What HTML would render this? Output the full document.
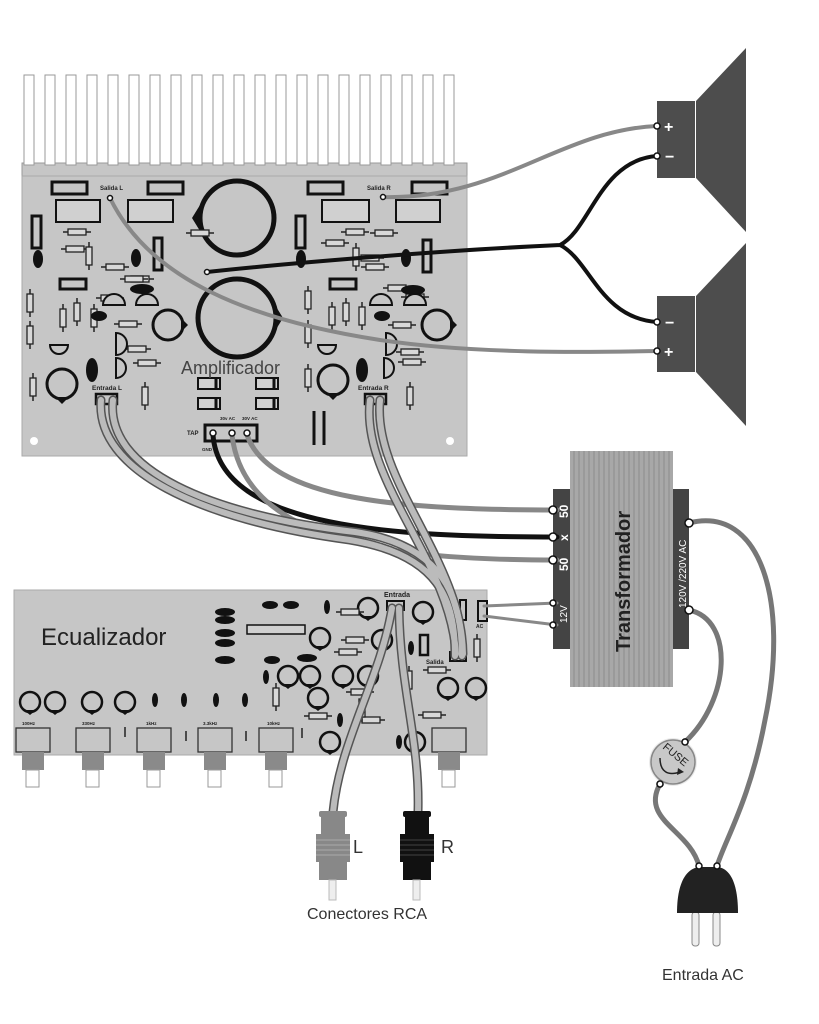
<!DOCTYPE html>
<html><head><meta charset="utf-8"><style>
html,body{margin:0;padding:0;background:#fff;}
svg{display:block;font-family:"Liberation Sans","DejaVu Sans",sans-serif;}
</style></head><body>
<svg width="819" height="1024" viewBox="0 0 819 1024" xmlns="http://www.w3.org/2000/svg">
<defs>
<g id="res"><line x1="-14" y1="0" x2="14" y2="0" stroke="#222" stroke-width="1.5"/><rect x="-9" y="-3" width="18" height="6" fill="#d8d8d8" stroke="#222" stroke-width="1.3"/></g>
<g id="vres"><line x1="0" y1="-14" x2="0" y2="14" stroke="#222" stroke-width="1.5"/><rect x="-3" y="-9" width="6" height="18" fill="#d8d8d8" stroke="#222" stroke-width="1.3"/></g>
<g id="tr"><circle r="15" fill="#c6c6c6" stroke="#111" stroke-width="3"/><path d="M-7,13 L0,20 L7,13 Z" fill="#111"/></g>
<g id="trs"><circle r="10" fill="#c6c6c6" stroke="#111" stroke-width="2.5"/><path d="M-6,8 L0,13 L6,8 Z" fill="#111"/></g>
<g id="pot"><rect x="0" y="0" width="34" height="24" fill="#c6c6c6" stroke="#333" stroke-width="1.3"/><rect x="6" y="24" width="22" height="18" fill="#8a8a8a"/><rect x="10" y="42" width="13" height="17" fill="#fff" stroke="#999"/></g>
</defs>

<!-- Heatsink -->
<rect x="22" y="163" width="445" height="14" fill="#c6c6c6" stroke="#999"/>
<g fill="#fff" stroke="#999" stroke-width="1">
<rect x="24" y="75" width="10" height="90"/><rect x="45" y="75" width="10" height="90"/><rect x="66" y="75" width="10" height="90"/><rect x="87" y="75" width="10" height="90"/><rect x="108" y="75" width="10" height="90"/><rect x="129" y="75" width="10" height="90"/><rect x="150" y="75" width="10" height="90"/><rect x="171" y="75" width="10" height="90"/><rect x="192" y="75" width="10" height="90"/><rect x="213" y="75" width="10" height="90"/><rect x="234" y="75" width="10" height="90"/><rect x="255" y="75" width="10" height="90"/><rect x="276" y="75" width="10" height="90"/><rect x="297" y="75" width="10" height="90"/><rect x="318" y="75" width="10" height="90"/><rect x="339" y="75" width="10" height="90"/><rect x="360" y="75" width="10" height="90"/><rect x="381" y="75" width="10" height="90"/><rect x="402" y="75" width="10" height="90"/><rect x="423" y="75" width="10" height="90"/><rect x="444" y="75" width="10" height="90"/>
</g>

<!-- Amp board -->
<rect x="22" y="176" width="445" height="280" fill="#c6c6c6" stroke="#aaa"/>
<g fill="none" stroke="#111" stroke-width="3">
<rect x="52" y="182" width="35" height="12"/><rect x="148" y="182" width="35" height="12"/><rect x="308" y="182" width="35" height="12"/><rect x="412" y="182" width="35" height="12"/>
<rect x="60" y="279" width="26" height="10"/><rect x="330" y="279" width="26" height="10"/>
<rect x="32" y="216" width="9" height="32"/><rect x="154" y="238" width="8" height="32"/><rect x="296" y="216" width="9" height="32"/><rect x="423" y="240" width="8" height="32"/>
</g>
<g fill="#d0d0d0" stroke="#111" stroke-width="2">
<rect x="56" y="200" width="44" height="22"/><rect x="128" y="200" width="45" height="22"/><rect x="322" y="200" width="47" height="22"/><rect x="396" y="200" width="44" height="22"/>
</g>
<circle cx="237" cy="218" r="37" fill="#c6c6c6" stroke="#111" stroke-width="5"/><path d="M200,205 L192,218 L200,231 Z" fill="#111"/>
<circle cx="237" cy="318" r="39" fill="#c6c6c6" stroke="#111" stroke-width="5"/><path d="M275,305 L283,318 L275,331 Z" fill="#111"/>
<g>
<use href="#res" x="77" y="232"/><use href="#res" x="75" y="249"/><use href="#res" x="115" y="267"/><use href="#res" x="140" y="279"/><use href="#res" x="200" y="233"/><use href="#res" x="128" y="324"/><use href="#res" x="137" y="349"/><use href="#res" x="147" y="363"/><use href="#res" x="110" y="298"/><use href="#res" x="134" y="279"/>
<use href="#vres" x="30" y="303"/><use href="#vres" x="30" y="335"/><use href="#vres" x="33" y="387"/><use href="#vres" x="63" y="318"/><use href="#vres" x="77" y="312"/><use href="#vres" x="94" y="318"/><use href="#vres" x="89" y="256"/><use href="#vres" x="145" y="396"/>
<use href="#res" x="355" y="232"/><use href="#res" x="335" y="243"/><use href="#res" x="375" y="267"/><use href="#res" x="397" y="288"/><use href="#res" x="415" y="297"/><use href="#res" x="402" y="325"/><use href="#res" x="410" y="352"/><use href="#res" x="412" y="362"/><use href="#res" x="384" y="233"/><use href="#res" x="370" y="258"/>
<use href="#vres" x="308" y="300"/><use href="#vres" x="308" y="334"/><use href="#vres" x="308" y="378"/><use href="#vres" x="332" y="316"/><use href="#vres" x="346" y="312"/><use href="#vres" x="362" y="316"/><use href="#vres" x="356" y="257"/><use href="#vres" x="410" y="396"/>
</g>
<g fill="#111">
<ellipse cx="38" cy="259" rx="5" ry="9"/><ellipse cx="136" cy="258" rx="5" ry="9"/><ellipse cx="92" cy="370" rx="6" ry="12"/><ellipse cx="99" cy="316" rx="8" ry="5"/><ellipse cx="142" cy="289" rx="12" ry="5"/>
<ellipse cx="301" cy="259" rx="5" ry="9"/><ellipse cx="406" cy="258" rx="5" ry="9"/><ellipse cx="362" cy="370" rx="6" ry="12"/><ellipse cx="382" cy="316" rx="8" ry="5"/><ellipse cx="413" cy="290" rx="12" ry="5"/>
</g>
<g fill="#c6c6c6" stroke="#111" stroke-width="2">
<path d="M103,305 a11,11 0 0 1 22,0 Z"/><path d="M136,305 a11,11 0 0 1 22,0 Z"/><path d="M50,345 a9,9 0 0 0 18,0 Z"/><path d="M116,333 v22 a11,11 0 0 0 0,-22 Z"/><path d="M116,358 v20 a10,10 0 0 0 0,-20 Z"/>
<path d="M370,305 a11,11 0 0 1 22,0 Z"/><path d="M404,305 a11,11 0 0 1 22,0 Z"/><path d="M318,345 a9,9 0 0 0 18,0 Z"/><path d="M386,333 v22 a11,11 0 0 0 0,-22 Z"/><path d="M384,358 v20 a10,10 0 0 0 0,-20 Z"/>
</g>
<g transform="rotate(-90 168 325)"><use href="#tr" x="168" y="325"/></g>
<g transform="rotate(-90 437 325)"><use href="#tr" x="437" y="325"/></g>
<use href="#tr" x="62" y="384"/><use href="#tr" x="333" y="380"/>
<g fill="#d0d0d0" stroke="#111" stroke-width="2">
<rect x="198" y="378" width="22" height="11"/><rect x="198" y="398" width="22" height="11"/><rect x="256" y="378" width="22" height="11"/><rect x="256" y="398" width="22" height="11"/>
</g>
<g stroke="#111" stroke-width="3"><line x1="216" y1="378" x2="216" y2="389"/><line x1="216" y1="398" x2="216" y2="409"/><line x1="274" y1="378" x2="274" y2="389"/><line x1="274" y1="398" x2="274" y2="409"/>
<line x1="314" y1="411" x2="314" y2="445"/><line x1="324" y1="411" x2="324" y2="445"/></g>
<text x="181" y="374" font-size="18" fill="#444">Amplificador</text>
<text x="100" y="190" font-size="6" font-weight="bold" fill="#222">Salida L</text>
<text x="367" y="190" font-size="6" font-weight="bold" fill="#222">Salida R</text>
<text x="92" y="390" font-size="6.5" font-weight="bold" fill="#222">Entrada L</text>
<text x="358" y="390" font-size="6.5" font-weight="bold" fill="#222">Entrada R</text>
<text x="220" y="420" font-size="4.5" font-weight="bold" fill="#222">30v AC</text>
<text x="242" y="420" font-size="4.5" font-weight="bold" fill="#222">30V AC</text>
<text x="187" y="435" font-size="6" font-weight="bold" fill="#222">TAP</text>
<text x="202" y="451" font-size="4.5" font-weight="bold" fill="#222">GND</text>
<rect x="205" y="425" width="52" height="16" fill="#c6c6c6" stroke="#111" stroke-width="3"/>
<rect x="96" y="394" width="21" height="10" fill="#c6c6c6" stroke="#111" stroke-width="2.5"/>
<rect x="365" y="394" width="21" height="10" fill="#c6c6c6" stroke="#111" stroke-width="2.5"/>
<circle cx="34" cy="441" r="4" fill="#fff"/><circle cx="450" cy="441" r="4" fill="#fff"/>

<!-- Equalizer board -->
<rect x="14" y="590" width="473" height="165" fill="#c6c6c6" stroke="#aaa"/>
<text x="41" y="645" font-size="24" fill="#222">Ecualizador</text>
<g fill="#111">
<ellipse cx="225" cy="612" rx="10" ry="4"/><ellipse cx="225" cy="620" rx="10" ry="4"/><ellipse cx="225" cy="633" rx="10" ry="4"/><ellipse cx="225" cy="643" rx="10" ry="4"/><ellipse cx="225" cy="660" rx="10" ry="4"/>
<ellipse cx="270" cy="605" rx="8" ry="4"/><ellipse cx="291" cy="605" rx="8" ry="4"/><ellipse cx="272" cy="660" rx="8" ry="4"/><ellipse cx="307" cy="658" rx="10" ry="4"/>
<ellipse cx="327" cy="607" rx="3" ry="7"/><ellipse cx="266" cy="677" rx="3" ry="7"/><ellipse cx="155" cy="700" rx="3" ry="7"/><ellipse cx="184" cy="700" rx="3" ry="7"/><ellipse cx="216" cy="700" rx="3" ry="7"/><ellipse cx="245" cy="700" rx="3" ry="7"/>
<ellipse cx="411" cy="648" rx="3" ry="7"/><ellipse cx="340" cy="720" rx="3" ry="7"/><ellipse cx="399" cy="742" rx="3" ry="7"/>
</g>
<rect x="247" y="625" width="58" height="9" fill="#d0d0d0" stroke="#111" stroke-width="1.5"/>
<rect x="420" y="635" width="8" height="20" fill="#c6c6c6" stroke="#111" stroke-width="2.5"/>
<rect x="460" y="600" width="6" height="20" fill="#c6c6c6" stroke="#111" stroke-width="2"/>
<g>
<use href="#trs" x="30" y="702"/><use href="#trs" x="55" y="702"/><use href="#trs" x="92" y="702"/><use href="#trs" x="125" y="702"/>
<use href="#trs" x="320" y="638"/><use href="#trs" x="288" y="676"/><use href="#trs" x="310" y="676"/><use href="#trs" x="318" y="698"/><use href="#trs" x="343" y="676"/><use href="#trs" x="368" y="676"/><use href="#trs" x="330" y="742"/><use href="#trs" x="415" y="742"/><use href="#trs" x="448" y="688"/><use href="#trs" x="476" y="688"/><use href="#trs" x="423" y="612"/><use href="#trs" x="382" y="640"/><use href="#trs" x="368" y="608"/>
<use href="#res" x="350" y="612"/><use href="#res" x="355" y="640"/><use href="#res" x="348" y="652"/><use href="#res" x="360" y="692"/><use href="#res" x="318" y="716"/><use href="#res" x="371" y="720"/><use href="#res" x="432" y="715"/><use href="#res" x="437" y="670"/>
<use href="#vres" x="276" y="697"/><use href="#vres" x="362" y="708"/><use href="#vres" x="409" y="680"/><use href="#vres" x="477" y="648"/>
</g>
<rect x="478" y="601" width="9" height="20" fill="#c6c6c6" stroke="#111" stroke-width="2"/>
<text x="476" y="628" font-size="5" font-weight="bold" fill="#222">AC</text>
<text x="384" y="597" font-size="7" font-weight="bold" fill="#222">Entrada</text>
<rect x="387" y="601" width="17" height="9" fill="#c6c6c6" stroke="#111" stroke-width="2"/>
<text x="426" y="664" font-size="6" font-weight="bold" fill="#222">Salida</text>
<rect x="450" y="652" width="16" height="9" fill="#c6c6c6" stroke="#111" stroke-width="2"/>
<g font-size="4.5" font-weight="bold" fill="#222">
<text x="22" y="725">100Hz</text><text x="82" y="725">330Hz</text><text x="146" y="725">1kHz</text><text x="203" y="725">3.3kHz</text><text x="267" y="725">10kHz</text>
</g>
<g stroke="#222" stroke-width="1.5"><line x1="125" y1="727" x2="125" y2="737"/><line x1="186" y1="731" x2="186" y2="741"/><line x1="246" y1="731" x2="246" y2="741"/><line x1="302" y1="728" x2="302" y2="738"/></g>
<use href="#pot" x="16" y="728"/><use href="#pot" x="76" y="728"/><use href="#pot" x="137" y="728"/><use href="#pot" x="198" y="728"/><use href="#pot" x="259" y="728"/><use href="#pot" x="432" y="728"/>

<!-- Transformer -->
<rect x="570" y="451" width="103" height="236" fill="#a8a8a8"/>
<g stroke="#8c8c8c" stroke-width="1">
<line x1="574" y1="451" x2="574" y2="687"/><line x1="579" y1="451" x2="579" y2="687"/><line x1="584" y1="451" x2="584" y2="687"/><line x1="589" y1="451" x2="589" y2="687"/><line x1="594" y1="451" x2="594" y2="687"/><line x1="599" y1="451" x2="599" y2="687"/><line x1="604" y1="451" x2="604" y2="687"/><line x1="609" y1="451" x2="609" y2="687"/><line x1="614" y1="451" x2="614" y2="687"/><line x1="619" y1="451" x2="619" y2="687"/><line x1="624" y1="451" x2="624" y2="687"/><line x1="629" y1="451" x2="629" y2="687"/><line x1="634" y1="451" x2="634" y2="687"/><line x1="639" y1="451" x2="639" y2="687"/><line x1="644" y1="451" x2="644" y2="687"/><line x1="649" y1="451" x2="649" y2="687"/><line x1="654" y1="451" x2="654" y2="687"/><line x1="659" y1="451" x2="659" y2="687"/><line x1="664" y1="451" x2="664" y2="687"/><line x1="669" y1="451" x2="669" y2="687"/>
</g>
<rect x="553" y="489" width="17" height="160" fill="#444"/>
<rect x="673" y="489" width="16" height="160" fill="#444"/>
<text transform="translate(630,652) rotate(-90)" font-size="20" font-weight="bold" fill="#222">Transformador</text>
<g fill="#fff" font-weight="bold" font-size="12">
<text transform="translate(568,518) rotate(-90)">50</text>
<text transform="translate(568,541) rotate(-90)">x</text>
<text transform="translate(568,571) rotate(-90)">50</text>
</g>
<text transform="translate(567,623) rotate(-90)" font-size="10" fill="#fff">12V</text>
<text transform="translate(686,608) rotate(-90)" font-size="10" fill="#fff">120V /220V AC</text>

<!-- Speakers -->
<rect x="657" y="101" width="38" height="77" fill="#4d4d4d"/>
<path d="M696,101 L746,48 L746,232 L696,178 Z" fill="#4d4d4d"/>
<rect x="657" y="296" width="38" height="76" fill="#4d4d4d"/>
<path d="M696,296 L746,243 L746,426 L696,372 Z" fill="#4d4d4d"/>
<g fill="#fff" font-size="16" font-weight="bold"><text x="664" y="132">+</text><text x="665" y="162">−</text><text x="665" y="328">−</text><text x="664" y="357">+</text></g>

<!-- Wires -->
<g fill="none" stroke-linecap="round">
<path d="M383,197 C500,200 560,130 657,126" stroke="#888" stroke-width="4"/>
<path d="M110,198 C150,280 250,320 380,340 C480,355 600,352 657,351" stroke="#888" stroke-width="4"/>
<path d="M657,156 C600,160 590,230 560,245 M657,322 C600,318 590,260 560,245 M560,245 C450,250 300,262 207,272" stroke="#111" stroke-width="4"/>
<path d="M213,435 C220,530 400,537 557,537" stroke="#111" stroke-width="5"/>
<path d="M232,435 C245,545 400,560 557,560" stroke="#888" stroke-width="5"/>
<path d="M247,435 C270,500 400,510 557,510" stroke="#888" stroke-width="5"/>
<path d="M484,606 L557,603 M484,616 L557,625" stroke="#888" stroke-width="3"/>
<path d="M689,523 C760,505 790,600 765,720 C750,800 725,840 717,866" stroke="#777" stroke-width="5"/>
<path d="M689,610 C735,620 730,700 685,742" stroke="#777" stroke-width="5"/>
<path d="M660,784 C640,820 690,830 699,866" stroke="#777" stroke-width="5"/>
<!-- cables -->
<g stroke="#555" stroke-width="9">
<path d="M101,400 C95,470 200,520 350,540 C440,555 455,600 455,656"/>
<path d="M113,400 C105,470 210,515 355,532 C445,545 462,600 462,656"/>
<path d="M370,400 C360,480 450,560 456,654"/>
<path d="M380,400 C372,480 462,560 463,654"/>
<path d="M392,608 C380,680 340,740 333,812"/>
<path d="M399,608 C400,690 420,740 418,812"/>
</g>
<g stroke="#bbb" stroke-width="6">
<path d="M101,400 C95,470 200,520 350,540 C440,555 455,600 455,656"/>
<path d="M113,400 C105,470 210,515 355,532 C445,545 462,600 462,656"/>
<path d="M370,400 C360,480 450,560 456,654"/>
<path d="M380,400 C372,480 462,560 463,654"/>
<path d="M392,608 C380,680 340,740 333,812"/>
<path d="M399,608 C400,690 420,740 418,812"/>
</g>
</g>
<g fill="#fff" stroke="#111" stroke-width="1.5">
<circle cx="207" cy="272" r="2.5"/><circle cx="110" cy="198" r="2.5"/><circle cx="383" cy="197" r="2.5"/>
<circle cx="213" cy="433" r="3"/><circle cx="232" cy="433" r="3"/><circle cx="247" cy="433" r="3"/>
<circle cx="657" cy="126" r="3"/><circle cx="657" cy="156" r="3"/><circle cx="657" cy="322" r="3"/><circle cx="657" cy="351" r="3"/>
<circle cx="553" cy="510" r="4"/><circle cx="553" cy="537" r="4"/><circle cx="553" cy="560" r="4"/><circle cx="553" cy="603" r="3"/><circle cx="553" cy="625" r="3"/>
<circle cx="689" cy="523" r="4"/><circle cx="689" cy="610" r="4"/>
<circle cx="685" cy="742" r="3"/><circle cx="660" cy="784" r="3"/>
</g>

<!-- Fuse -->
<circle cx="673" cy="762" r="24" fill="#ddd" opacity="0.6"/>
<circle cx="673" cy="762" r="22" fill="#c8c8c8" stroke="#888" stroke-width="1.5"/>
<text transform="translate(662,748) rotate(40)" font-size="11" fill="#222">FUSE</text>
<path d="M660,758 C660,772 668,776 680,772" fill="none" stroke="#222" stroke-width="1.5"/><path d="M678,768 L684,772 L677,775 Z" fill="#222"/>
<circle cx="685" cy="742" r="3" fill="#fff" stroke="#111" stroke-width="1.5"/>
<circle cx="660" cy="784" r="3" fill="#fff" stroke="#111" stroke-width="1.5"/>

<!-- Plug -->
<rect x="692" y="912" width="7" height="34" rx="3" fill="#eee" stroke="#888"/>
<rect x="713" y="912" width="7" height="34" rx="3" fill="#eee" stroke="#888"/>
<path d="M677,913 C677,885 685,868 700,867 L717,867 C731,868 738,885 738,913 Z" fill="#222"/>
<circle cx="699" cy="866" r="3" fill="#fff" stroke="#111" stroke-width="1.5"/>
<circle cx="717" cy="866" r="3" fill="#fff" stroke="#111" stroke-width="1.5"/>
<text x="662" y="980" font-size="16" fill="#333">Entrada AC</text>

<!-- RCA -->
<g fill="#888">
<rect x="319" y="811" width="28" height="6" rx="2"/><rect x="321" y="816" width="24" height="19"/><rect x="316" y="834" width="34" height="28"/><rect x="319" y="862" width="28" height="18"/>
</g>
<g stroke="#aaa" stroke-width="1"><line x1="316" y1="840" x2="350" y2="840"/><line x1="316" y1="845" x2="350" y2="845"/><line x1="316" y1="850" x2="350" y2="850"/><line x1="316" y1="855" x2="350" y2="855"/></g>
<rect x="329" y="880" width="7" height="20" fill="#eee" stroke="#bbb"/>
<g fill="#111">
<rect x="403" y="811" width="28" height="6" rx="2"/><rect x="405" y="816" width="24" height="19"/><rect x="400" y="834" width="34" height="28"/><rect x="403" y="862" width="28" height="18"/>
</g>
<g stroke="#444" stroke-width="1"><line x1="400" y1="840" x2="434" y2="840"/><line x1="400" y1="845" x2="434" y2="845"/><line x1="400" y1="850" x2="434" y2="850"/><line x1="400" y1="855" x2="434" y2="855"/></g>
<rect x="413" y="880" width="7" height="20" fill="#eee" stroke="#bbb"/>
<text x="353" y="853" font-size="18" fill="#333">L</text>
<text x="441" y="853" font-size="18" fill="#333">R</text>
<text x="307" y="919" font-size="16" fill="#333">Conectores RCA</text>
</svg>
</body></html>
